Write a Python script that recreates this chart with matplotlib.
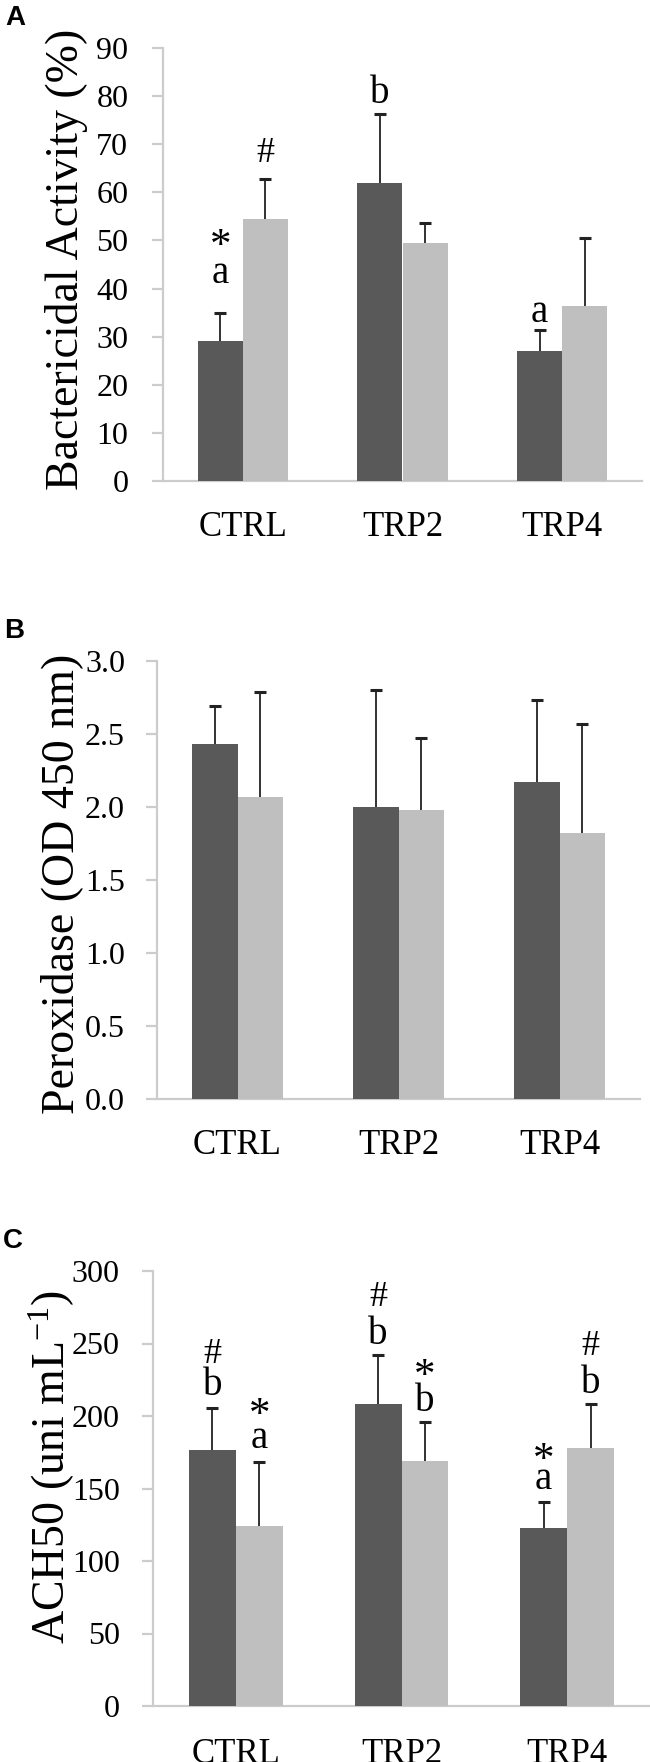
import matplotlib
matplotlib.use("Agg")
import matplotlib.pyplot as plt
import numpy as np

plt.rcParams['font.family'] = ['Liberation Serif', 'DejaVu Serif']
plt.rcParams['mathtext.fontset'] = 'custom'
plt.rcParams['mathtext.rm'] = 'Liberation Serif'
plt.rcParams['mathtext.it'] = 'Liberation Serif:italic'

# ---------------- data ----------------
groups = ['CTRL', 'TRP2', 'TRP4']

bact_s1 = [29.0, 62.0, 27.1]
bact_s1_err = [6.0, 14.2, 4.3]
bact_s2 = [54.4, 49.5, 36.4]
bact_s2_err = [8.3, 4.1, 14.1]

perox_s1 = [2.43, 2.00, 2.17]
perox_s1_err = [0.26, 0.80, 0.56]
perox_s2 = [2.07, 1.98, 1.82]
perox_s2_err = [0.72, 0.49, 0.75]

ach_s1 = [176.5, 208.4, 123.0]
ach_s1_err = [28.9, 33.5, 17.5]
ach_s2 = [123.8, 168.9, 177.8]
ach_s2_err = [44.3, 26.8, 30.8]

bact_ticks = [0, 10, 20, 30, 40, 50, 60, 70, 80, 90]
perox_ticks = [0.0, 0.5, 1.0, 1.5, 2.0, 2.5, 3.0]
ach_ticks = [0, 50, 100, 150, 200, 250, 300]

# annotations: (group, series, text, y of glyph centre)
bact_notes = [(0, 0, 'a', 43.0), (0, 0, '*', 50.8), (0, 1, '#', 68.9),
              (1, 0, 'b', 81.4), (2, 0, 'a', 35.0)]
perox_notes = []
ach_notes = [(0, 0, 'b', 223.6), (0, 0, '#', 245.3),
             (0, 1, 'a', 183.8), (0, 1, '*', 207.4),
             (1, 0, 'b', 258.8), (1, 0, '#', 284.5),
             (1, 1, 'b', 212.8), (1, 1, '*', 234.5),
             (2, 0, 'a', 156.0), (2, 0, '*', 176.4),
             (2, 1, 'b', 225.0), (2, 1, '#', 250.6)]

# ---------------- style ----------------
W, H = 650, 1762
DARK = '#595959'
LIGHT = '#bfbfbf'
AXC = '#cccccc'
ERRC = '#222222'
BW = 0.283

note_size = {'a': 28, 'b': 28, '#': 26, '*': 31}
note_center = {'a': 0.23, 'b': 0.34, '#': 0.34, '*': 0.48}

fig = plt.figure(figsize=(W / 100, H / 100), dpi=100)


def px_axes(left, right, top, bottom):
    return fig.add_axes([left / W, 1 - bottom / H, (right - left) / W, (bottom - top) / H])


def upper_errorbar(ax, x, vals, errs):
    eb = ax.errorbar(x, vals, yerr=[np.zeros(len(vals)), errs], fmt='none',
                     ecolor=ERRC, elinewidth=1.3, capsize=4.3, capthick=2.2, zorder=3)
    # keep only the upper caps
    for cl in eb[1]:
        yd = np.asarray(cl.get_ydata(), dtype=float)
        if np.allclose(yd, np.asarray(vals, dtype=float)):
            cl.set_visible(False)


def panel(ax, s1, e1, s2, e2, ticks, fmt, notes, ypad, xpad):
    x = np.arange(len(groups))
    ax.bar(x - BW / 2, s1, BW, color=DARK, zorder=2)
    ax.bar(x + BW / 2, s2, BW, color=LIGHT, zorder=2)
    upper_errorbar(ax, x - BW / 2, s1, e1)
    upper_errorbar(ax, x + BW / 2, s2, e2)
    ax.set_xlim(-0.5, len(groups) - 0.5)
    ax.set_ylim(ticks[0], ticks[-1])
    ax.set_yticks(ticks)
    ax.set_yticklabels([fmt.format(t) for t in ticks])
    ax.set_xticks(x)
    ax.set_xticklabels(groups)
    for s in ['top', 'right']:
        ax.spines[s].set_visible(False)
    for s in ['left', 'bottom']:
        ax.spines[s].set_color(AXC)
        ax.spines[s].set_linewidth(1.6)
        ax.spines[s].set_zorder(1)
    ax.tick_params(axis='y', direction='out', length=8, width=1.6, color=AXC,
                   labelsize=23, pad=ypad)
    ax.tick_params(axis='x', length=0, labelsize=25, pad=xpad)
    for g, si, txt, yc in notes:
        xp = g - BW / 2 if si == 0 else g + BW / 2
        fs = note_size[txt]
        ax.annotate(txt, xy=(xp, yc), xytext=(0, -note_center[txt] * fs),
                    textcoords='offset points', ha='center', va='baseline',
                    fontsize=fs, zorder=4, annotation_clip=False)


axA = px_axes(163, 642, 48, 481)
panel(axA, bact_s1, bact_s1_err, bact_s2, bact_s2_err, bact_ticks, '{:d}',
      bact_notes, 17, 21.5)

axB = px_axes(157, 640, 661, 1099)
panel(axB, perox_s1, perox_s1_err, perox_s2, perox_s2_err, perox_ticks, '{:.1f}',
      perox_notes, 15, 21.5)

axC = px_axes(153, 650, 1271, 1706)
panel(axC, ach_s1, ach_s1_err, ach_s2, ach_s2_err, ach_ticks, '{:d}',
      ach_notes, 16, 23)


def ylab(txt, x, y):
    fig.text(x / W, 1 - y / H, txt, rotation=90, ha='center', va='center', fontsize=33)


ylab('Bactericidal Activity (%)', 67, 259)
ylab('Peroxidase (OD 450 nm)', 62, 884)
ylab('ACH50 (uni mL$^{-1}$)', 52, 1467)


def letter(txt, x, y):
    fig.text(x / W, 1 - y / H, txt, ha='center', va='center', fontsize=20,
             fontweight='bold', family=['Liberation Sans', 'DejaVu Sans'])


letter('A', 15, 18)
letter('B', 14, 631)
letter('C', 13, 1241)

fig.savefig('out.png', dpi=100)
